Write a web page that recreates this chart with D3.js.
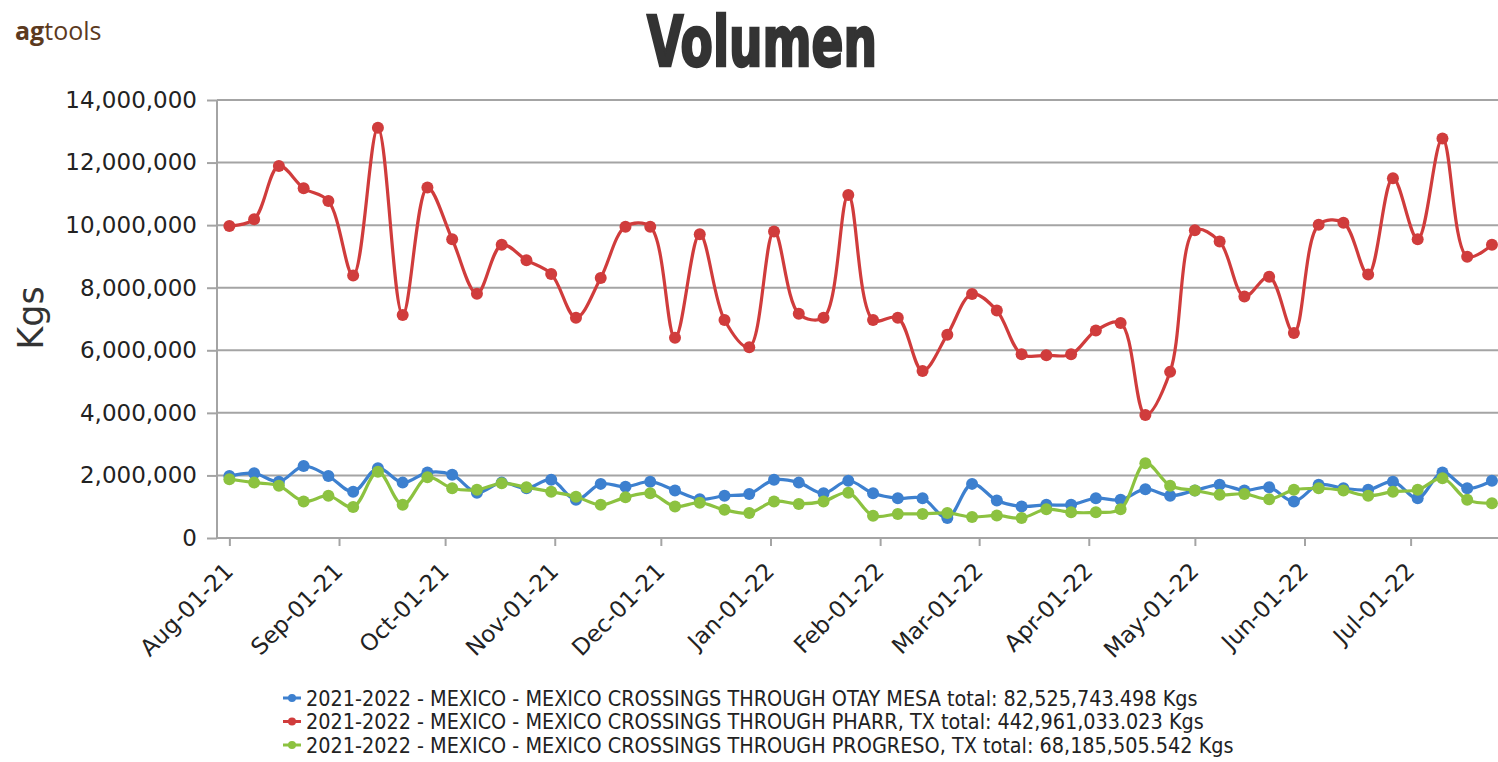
<!DOCTYPE html>
<html>
<head>
<meta charset="utf-8">
<style>
body { margin: 0; background: #fff; }
svg { display: block; font-family: "DejaVu Sans", Verdana, sans-serif; }
</style>
</head>
<body>
<svg id="chart" width="1498" height="762"></svg>
<script src="https://cdn.jsdelivr.net/npm/d3@7/dist/d3.min.js"></script>
<script>
// weekly values, millions of Kgs
var otay = [1.98, 2.07, 1.8, 2.3, 1.98, 1.48, 2.23, 1.77, 2.09, 2.02,
  1.45, 1.77, 1.59, 1.86, 1.22, 1.73, 1.64, 1.8, 1.52, 1.24,
  1.35, 1.41, 1.86, 1.77, 1.43, 1.83, 1.43, 1.27, 1.27, 0.64,
  1.73, 1.2, 1.01, 1.06, 1.06, 1.27, 1.22, 1.56, 1.35, 1.52,
  1.7, 1.52, 1.62, 1.17, 1.7, 1.59, 1.54, 1.8, 1.27, 2.09,
  1.59, 1.83];
var pharr = [9.97, 10.19, 11.89, 11.18, 10.77, 8.39, 13.11, 7.13, 11.2, 9.55,
  7.81, 9.37, 8.88, 8.44, 7.04, 8.31, 9.95, 9.95, 6.4, 9.71,
  6.97, 6.1, 9.8, 7.17, 7.04, 10.96, 6.97, 7.04, 5.34, 6.5,
  7.8, 7.27, 5.87, 5.84, 5.87, 6.63, 6.87, 3.93, 5.31, 9.84,
  9.48, 7.72, 8.35, 6.55, 10.01, 10.08, 8.42, 11.5, 9.55, 12.77,
  8.99, 9.37];
var progreso = [1.88, 1.77, 1.67, 1.17, 1.35, 0.99, 2.12, 1.06, 1.94, 1.59,
  1.54, 1.75, 1.62, 1.48, 1.32, 1.06, 1.3, 1.43, 1.01, 1.13,
  0.9, 0.8, 1.17, 1.09, 1.17, 1.45, 0.71, 0.77, 0.77, 0.8,
  0.67, 0.72, 0.64, 0.92, 0.82, 0.82, 0.92, 2.39, 1.67, 1.52,
  1.38, 1.41, 1.24, 1.54, 1.59, 1.52, 1.35, 1.48, 1.54, 1.91,
  1.22, 1.11];
var seriesNames = [
  "2021-2022 - MEXICO - MEXICO CROSSINGS THROUGH OTAY MESA total: 82,525,743.498 Kgs",
  "2021-2022 - MEXICO - MEXICO CROSSINGS THROUGH PHARR, TX total: 442,961,033.023 Kgs",
  "2021-2022 - MEXICO - MEXICO CROSSINGS THROUGH PROGRESO, TX total: 68,185,505.542 Kgs"
];
var colors = ["#3d80cf", "#d03c3c", "#8cc240"];
var yTicks = [0, 2e6, 4e6, 6e6, 8e6, 10e6, 12e6, 14e6];
// one point per week, starting Sunday Aug-01-21
var weeks = d3.timeWeek.range(new Date(2021, 7, 1), new Date(2022, 6, 26));
var monthTicks = d3.timeMonth.range(new Date(2021, 7, 1), new Date(2022, 6, 2));

var svg = d3.select("#chart");
var plotLeft = 217, plotRight = 1498, plotTop = 100, plotBottom = 538;

var x = d3.scaleTime()
    .domain([new Date(2021, 6, 28, 12), new Date(2022, 6, 25, 17)])
    .range([plotLeft, plotRight]);
var y = d3.scaleLinear().domain([0, 14e6]).range([plotBottom, plotTop]);

// logo + title
var logo = svg.append("text").attr("x", 15).attr("y", 40)
    .attr("fill", "#5c3a1e").attr("font-family", "Open Sans").attr("font-size", 25);
logo.append("tspan").attr("font-weight", "bold").text("ag");
logo.append("tspan").text("tools");

svg.append("text")
    .attr("x", 647).attr("y", 66)
    .attr("font-family", "DejaVu Sans Condensed").attr("font-weight", "bold")
    .attr("font-size", 69)
    .attr("textLength", 230).attr("lengthAdjust", "spacingAndGlyphs")
    .attr("fill", "#333").attr("stroke", "#333").attr("stroke-width", 2.5)
    .text("Volumen");

// grid lines
svg.append("g").selectAll("line")
  .data(yTicks.slice(1))
  .enter().append("line")
    .attr("x1", plotLeft).attr("x2", plotRight)
    .attr("y1", function(d) { return y(d); })
    .attr("y2", function(d) { return y(d); })
    .attr("stroke", "#a4a4a4").attr("stroke-width", 2);

// y axis
var yAxis = svg.append("g")
    .attr("transform", "translate(" + plotLeft + ",0)")
    .call(d3.axisLeft(y).tickValues(yTicks).tickSize(10).tickPadding(10)
      .tickFormat(d3.format(",")));
yAxis.select(".domain").attr("stroke", "#a4a4a4").attr("stroke-width", 2)
    .attr("d", "M0," + plotTop + "V" + plotBottom);
yAxis.selectAll(".tick line").attr("stroke", "#a4a4a4").attr("stroke-width", 2);
yAxis.selectAll(".tick text").attr("font-size", 23).attr("fill", "#222")
    .attr("font-family", "DejaVu Sans");

svg.append("text")
    .attr("transform", "translate(43,318) rotate(-90)")
    .attr("text-anchor", "middle")
    .attr("font-size", 35).attr("fill", "#333")
    .text("Kgs");

// x axis
var xAxis = svg.append("g")
    .attr("transform", "translate(0," + plotBottom + ")")
    .call(d3.axisBottom(x).tickValues(monthTicks).tickSize(8)
      .tickFormat(d3.timeFormat("%b-%d-%y")));
xAxis.select(".domain").attr("stroke", "#a4a4a4").attr("stroke-width", 2)
    .attr("d", "M" + plotLeft + ",0H" + plotRight);
xAxis.selectAll(".tick line").attr("stroke", "#a4a4a4").attr("stroke-width", 2);
xAxis.selectAll(".tick text")
    .attr("font-size", 23).attr("fill", "#222").attr("font-family", "DejaVu Sans")
    .attr("text-anchor", "end")
    .attr("y", 0).attr("dy", "0.35em")
    .attr("transform", "translate(-1,29) rotate(-45)");

// series
svg.append("clipPath").attr("id", "plot")
  .append("rect").attr("x", plotLeft).attr("y", 0)
    .attr("width", plotRight - plotLeft).attr("height", plotBottom + 10);

var line = d3.line()
    .x(function(d) { return x(d.date); })
    .y(function(d) { return y(d.value); })
    .curve(d3.curveCatmullRom.alpha(0.5));

var all = [otay, pharr, progreso].map(function(vals, i) {
  return { color: colors[i], points: vals.map(function(v, j) { return { date: weeks[j], value: v * 1e6 }; }) };
});

var plot = svg.append("g").attr("clip-path", "url(#plot)");
// pharr first, then otay, progreso on top
[1, 0, 2].forEach(function(i) {
  var s = all[i];
  plot.append("path")
      .attr("d", line(s.points))
      .attr("fill", "none").attr("stroke", s.color).attr("stroke-width", 3.2);
  plot.append("g").selectAll("circle")
    .data(s.points)
    .enter().append("circle")
      .attr("cx", function(d) { return x(d.date); })
      .attr("cy", function(d) { return y(d.value); })
      .attr("r", 6)
      .attr("fill", s.color);
});

// legend
var legend = svg.append("g").selectAll("g")
  .data(seriesNames)
  .enter().append("g")
    .attr("transform", function(d, i) { return "translate(0," + (698 + i * 23.5) + ")"; });
legend.append("line")
    .attr("x1", 283).attr("x2", 301)
    .attr("stroke", function(d, i) { return colors[i]; }).attr("stroke-width", 3);
legend.append("circle")
    .attr("cx", 292).attr("r", 4)
    .attr("fill", function(d, i) { return colors[i]; });
var lt = legend.append("text")
    .attr("x", 306).attr("dy", "0.36em")
    .attr("font-family", "DejaVu Sans Condensed")
    .attr("font-size", 20).attr("fill", "#222")
    .text(function(d) { return d; });
// fit first legend line to its width in the picture
var w0 = lt.node().getComputedTextLength();
lt.attr("font-size", 20 * 892 / w0);
</script>
</body>
</html>
